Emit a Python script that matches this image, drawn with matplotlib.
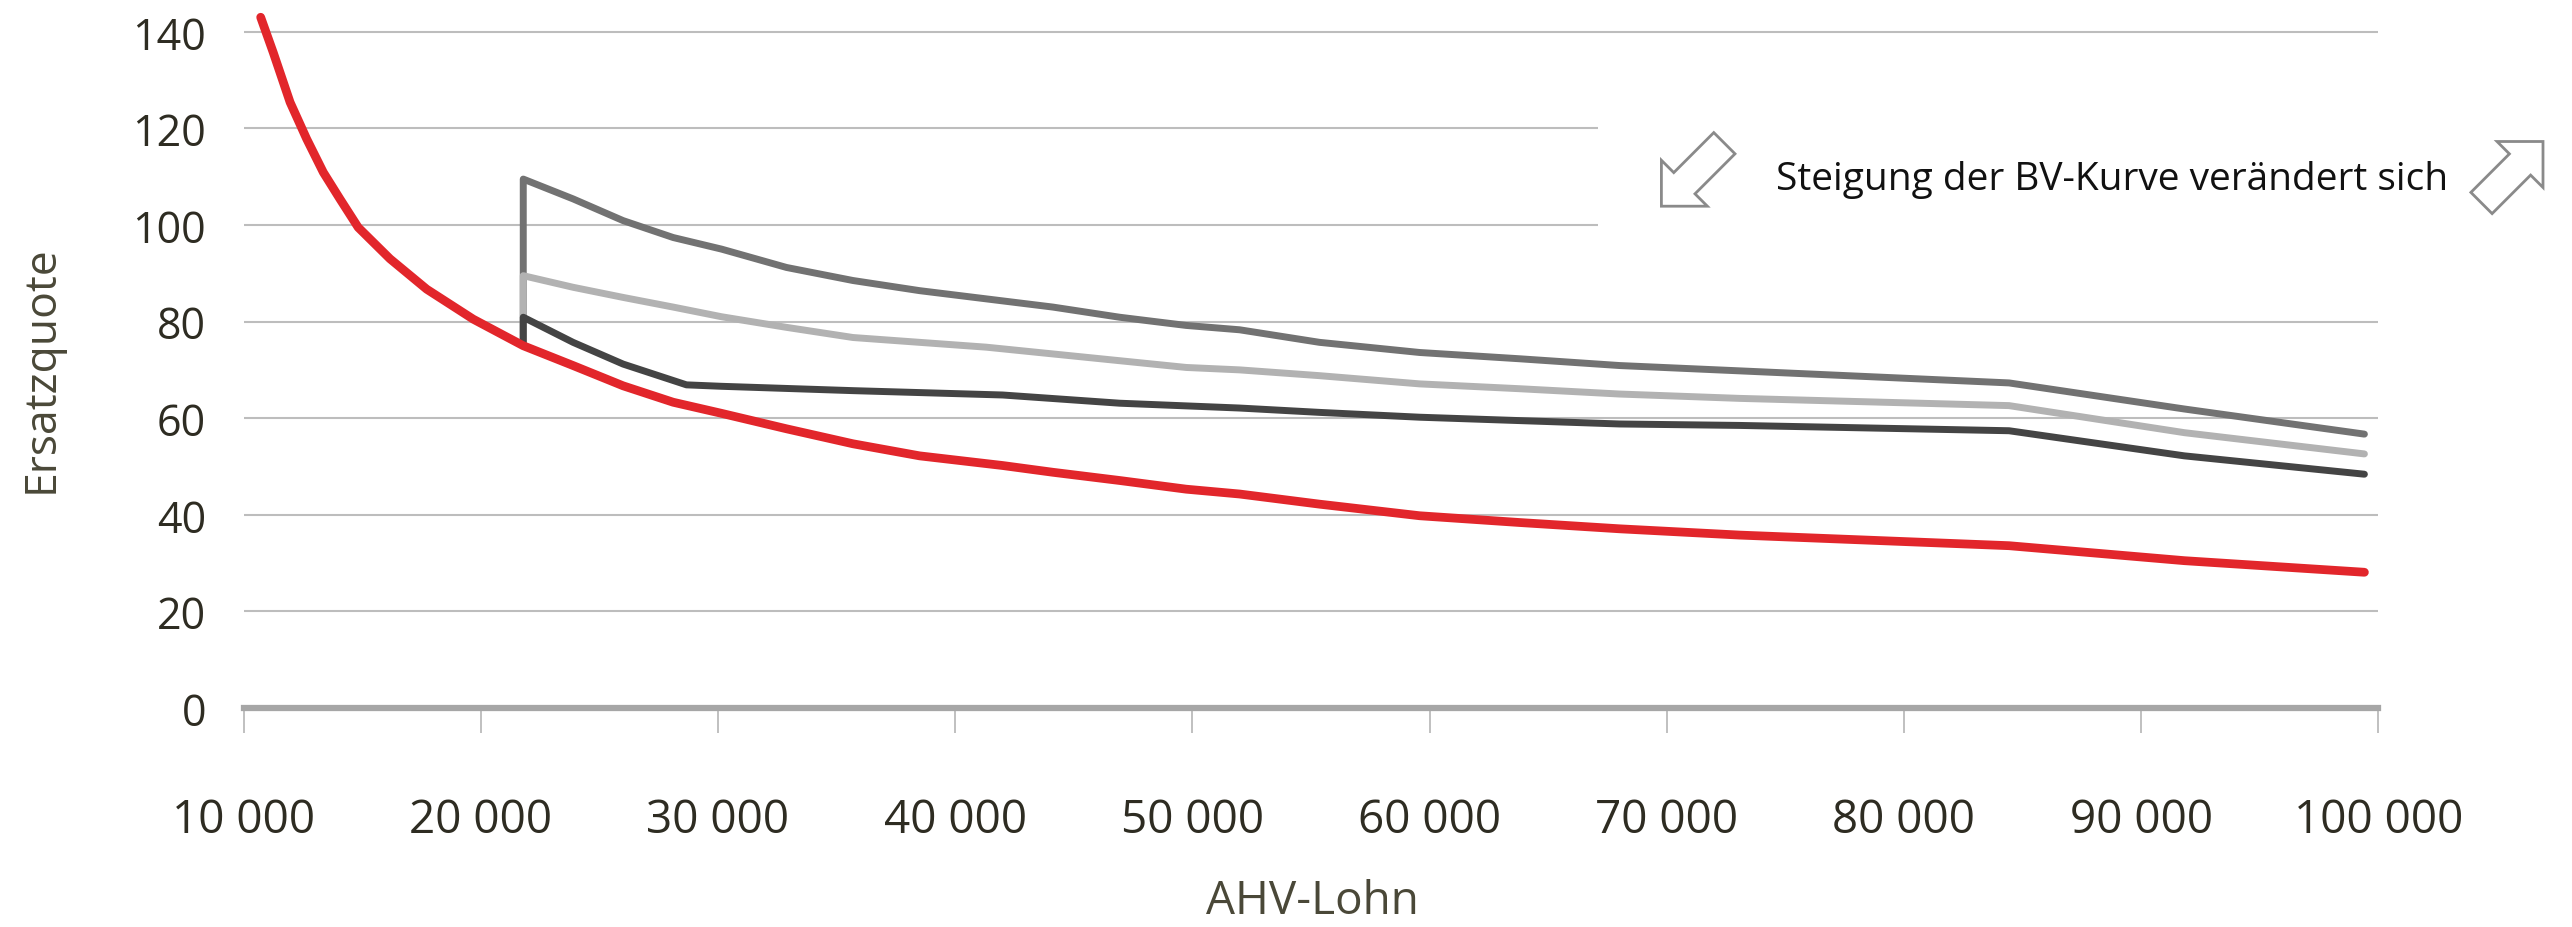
import matplotlib
matplotlib.use('Agg')
import matplotlib.pyplot as plt
from matplotlib.patches import FancyArrow
from matplotlib.transforms import IdentityTransform
from matplotlib.ticker import FuncFormatter

plt.rcParams['font.family'] = ['Open Sans', 'DejaVu Sans']

# AHV-Kurve (rot)
lohn_ahv = [10720, 11250, 11960, 12660, 13360, 14060, 14830, 16170, 17720, 19680,
            21790, 23890, 26000, 28110, 30150, 32890, 35690, 38500, 42000, 44120,
            46930, 49740, 51990, 55360, 59580, 63790, 68000, 73060, 84430, 91820,
            99410]
quote_ahv = [143.0, 135.7, 125.4, 117.8, 110.9, 105.4, 99.5, 93.0, 86.7, 80.5,
             75.0, 70.9, 66.7, 63.3, 61.0, 57.8, 54.7, 52.2, 50.2, 48.8,
             47.1, 45.3, 44.3, 42.2, 39.8, 38.4, 37.1, 35.8, 33.6, 30.5,
             28.1]

# BV-Kurven (grau)
lohn_bv = [21790, 21790, 23890, 26000, 28110, 30150, 32890, 35690, 38500, 41310,
           44120, 46930, 49740, 51990, 55360, 59580, 63790, 68000, 73060, 84430,
           91820, 99410]
bv_hoch = [75.0, 109.5, 105.4, 100.9, 97.4, 95.0, 91.2, 88.5, 86.4, 84.7,
           83.0, 80.9, 79.2, 78.3, 75.7, 73.6, 72.3, 70.9, 69.8, 67.3,
           61.9, 56.7]
bv_mittel = [75.0, 89.5, 87.1, 85.0, 83.0, 81.0, 78.8, 76.7, 75.7, 74.7,
             73.3, 71.9, 70.5, 70.0, 68.8, 67.1, 66.1, 65.0, 64.1, 62.6,
             57.0, 52.6]
lohn_tief = [21790, 21790, 23890, 26000, 28670, 30150, 35690, 42000, 46930, 51990,
             55360, 59580, 63790, 68000, 73060, 84430, 91820, 99410]
bv_tief = [75.0, 80.9, 75.7, 71.2, 66.9, 66.6, 65.7, 64.8, 63.1, 62.1,
           61.2, 60.2, 59.5, 58.8, 58.5, 57.4, 52.2, 48.4]

x_ticks = list(range(10000, 100001, 10000))
y_ticks = list(range(0, 141, 20))

W, H = 2572, 928
fig = plt.figure(figsize=(W / 100, H / 100), dpi=100)
ax = fig.add_axes([243.6 / W, (H - 709) / H, (2378.4 - 243.6) / W, 700.4 / H])
ax.set_xlim(10000, 100000)
ax.set_ylim(0, 145)

# Gitterlinien; 100 und 120 enden vor dem Hinweistext
for y in y_ticks[1:]:
    x_end = 67100 if y in (100, 120) else 100000
    ax.hlines(y, 10000, x_end, color='#bdbdbd', lw=1.5, zorder=0.5)

style = dict(solid_joinstyle='round', solid_capstyle='round')
ax.plot(lohn_bv, bv_hoch, color='#727272', lw=5.0, zorder=2, **style)
ax.plot(lohn_bv, bv_mittel, color='#b2b2b2', lw=5.0, zorder=3, **style)
ax.plot(lohn_tief, bv_tief, color='#444444', lw=5.0, zorder=4, **style)
ax.plot(lohn_ahv, quote_ahv, color='#e2262b', lw=6.3, zorder=5, **style)

for side in ('left', 'right', 'top'):
    ax.spines[side].set_visible(False)
ax.spines['bottom'].set_color('#a6a6a6')
ax.spines['bottom'].set_linewidth(4.5)

ax.set_xticks(x_ticks)
ax.set_yticks(y_ticks)
ax.xaxis.set_major_formatter(FuncFormatter(lambda v, p: '{:,}'.format(int(v)).replace(',', ' ')))
ax.tick_params(axis='x', direction='out', length=18, width=1.2, color='#b5b5b5',
               pad=46, labelsize=33, labelcolor='#2e2c22')
ax.tick_params(axis='y', length=0, pad=27, labelsize=31, labelcolor='#2e2c22')

fig.text(1312 / W, 1 - 902 / H, 'AHV-Lohn', fontsize=33, color='#4a4838',
         ha='center', va='center')
fig.text(41 / W, 1 - 369 / H, 'Ersatzquote', fontsize=32, color='#4a4838',
         ha='center', va='center', rotation=90)

fig.text(1776 / W, 1 - 180 / H, 'Steigung der BV-Kurve verändert sich',
         fontsize=28, color='#111111', ha='left', va='center')

arrow_style = dict(width=30, head_width=65, head_length=32.5, length_includes_head=True,
                   fc='white', ec='#8a8a8a', lw=2.0, transform=IdentityTransform())
fig.patches.append(FancyArrow(1724.4, H - 144.2, -63, -63, **arrow_style))
fig.patches.append(FancyArrow(2481.5, H - 204, 61.5, 61.5, **arrow_style))

fig.savefig('out.png', dpi=100)
